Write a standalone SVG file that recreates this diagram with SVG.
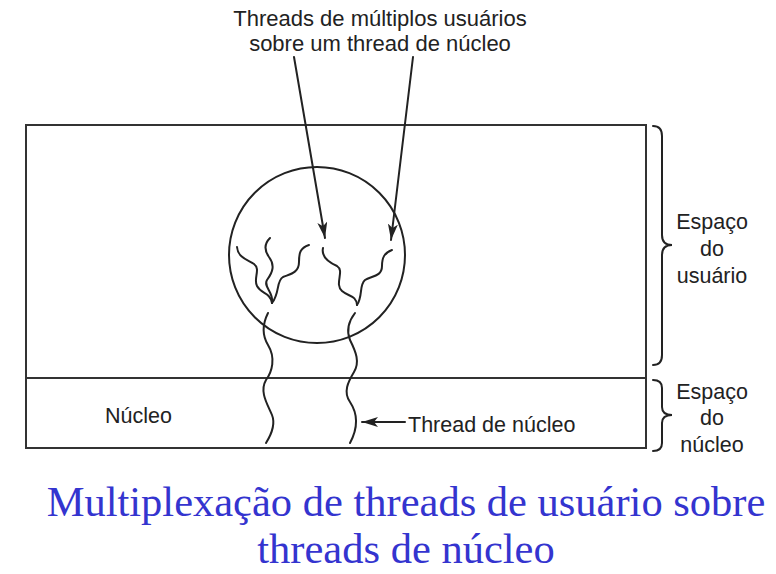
<svg xmlns="http://www.w3.org/2000/svg" width="776" height="574" viewBox="0 0 776 574">
<style>
.ln{fill:none;stroke:#222;stroke-width:2;stroke-linecap:round}
.box{fill:none;stroke:#333;stroke-width:2}
.lbl{font-family:"Liberation Sans",Arial,sans-serif;font-size:21.5px;fill:#222}
.big{font-size:22px}
.mid{text-anchor:middle}
.ttl{font-family:"Liberation Serif","Times New Roman",serif;font-size:42.5px;fill:#3434cf;text-anchor:middle}
</style>
<defs>
<marker id="ah" viewBox="0 0 16 10" refX="16" refY="5" markerWidth="16" markerHeight="10" markerUnits="userSpaceOnUse" orient="auto">
<path d="M0,0 L16,5 L0,10 L4,5 Z" fill="#222"/>
</marker>
</defs>
<rect width="776" height="574" fill="#fff"/>
<g id="user-space">
<rect class="box" x="26" y="125" width="620" height="253"/>
</g>
<g id="kernel-space">
<rect class="box" x="26" y="378" width="620" height="70"/>
<text class="lbl" x="105" y="423">Núcleo</text>
</g>
<g id="process">
<circle class="ln" cx="317" cy="255" r="88"/>
</g>
<g id="user-threads">
<path class="ln" d="M237,247 C238,258 248,260 254,264 C261,269 253,279 257,286 C261,294 270,292 272,303"/>
<path class="ln" d="M270,238 C264,244 264,250 269,257 C275,265 273,272 267,280 C263,287 274,292 272,303"/>
<path class="ln" d="M309,245 C300,248 299,253 299,262 C299,273 290,274 283,277 C276,281 280,293 272,303"/>
<path class="ln" d="M323,248 C321,257 328,262 337,266 C345,271 334,284 342,291 C349,297 356,295 357,305"/>
<path class="ln" d="M392,250 C384,253 382,258 382,266 C382,277 371,276 365,280 C359,285 363,296 357,305"/>
</g>
<g id="kernel-threads">
<path class="ln" d="M268,313 C262,325 262,335 268,345 C276,358 272,372 266,380 C259,392 268,405 272,415 C276,425 271,435 266,443"/>
<path class="ln" d="M355,313 C348,322 346,330 350,340 C356,352 360,362 354,372 C348,382 343,392 350,402 C358,414 358,428 350,443"/>
</g>
<g id="top-label">
<text class="lbl big mid" x="380" y="26">Threads de múltiplos usuários</text>
<text class="lbl big mid" x="380" y="51">sobre um thread de núcleo</text>
</g>
<g id="kernel-label">
<text class="lbl" x="408" y="432">Thread de núcleo</text>
</g>
<g id="user-brace">
<path class="ln" stroke-width="1.5" d="M653,126 Q662,126 662,136 L662,235 Q662,245 672,245 Q662,245 662,255 L662,355 Q662,365 653,365"/>
<text class="lbl mid" x="712" y="229">Espaço</text>
<text class="lbl mid" x="712" y="256">do</text>
<text class="lbl mid" x="712" y="283">usuário</text>
</g>
<g id="kernel-brace">
<path class="ln" stroke-width="1.5" d="M653,380 Q662,380 662,388 L662,407 Q662,415 672,415 Q662,415 662,423 L662,443 Q662,451 653,451"/>
<text class="lbl mid" x="712" y="399">Espaço</text>
<text class="lbl mid" x="712" y="425">do</text>
<text class="lbl mid" x="712" y="452">núcleo</text>
</g>
<g id="connectors">
<line class="ln" x1="294" y1="57" x2="325" y2="238" marker-end="url(#ah)"/>
<line class="ln" x1="413" y1="57" x2="391" y2="240" marker-end="url(#ah)"/>
<line class="ln" x1="405" y1="422" x2="362" y2="422" marker-end="url(#ah)"/>
</g>
<g id="title">
<text class="ttl" x="406" y="516">Multiplexação de threads de usuário sobre</text>
<text class="ttl" x="406" y="563">threads de núcleo</text>
</g>
</svg>
